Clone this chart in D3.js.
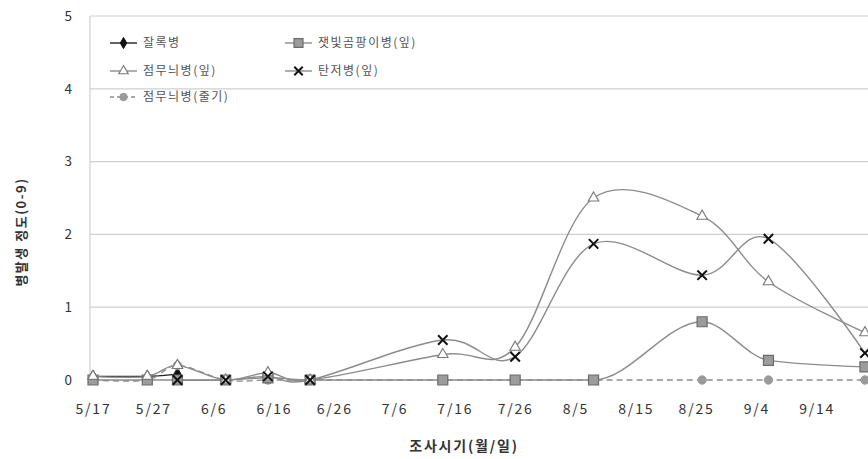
<!DOCTYPE html>
<html>
<head>
<meta charset="utf-8">
<script src="https://cdn.jsdelivr.net/npm/d3@7"></script>
<style>
  body { margin: 0; background: #fff; }
  svg { display: block; }
  text { font-family: "Noto Sans CJK KR", "Noto Sans", sans-serif; }
</style>
</head>
<body>
<svg id="chart" width="868" height="459"></svg>
<script>
// Survey dates (month/day)
const surveyDates = ["5/17", "5/26", "5/31", "6/8", "6/15", "6/22", "7/14", "7/26", "8/8", "8/26", "9/6", "9/22"];
const xTickLabels = ["5/17", "5/27", "6/6", "6/16", "6/26", "7/6", "7/16", "7/26", "8/5", "8/15", "8/25", "9/4", "9/14"];
const yTickValues = [0, 1, 2, 3, 4, 5];

// Disease severity (0-9 scale) per survey date; null = not surveyed
const dampingOff      = [0.05, 0.05, 0.08, null, null, null, null, null, null, null, null, null];
const grayMoldLeaf    = [0, 0, 0, 0, 0.03, 0, 0, 0, 0, 0.8, 0.27, 0.18];
const leafSpotLeaf    = [0.05, 0.05, 0.2, 0, 0.1, 0, 0.35, 0.45, 2.5, 2.25, 1.35, 0.65];
const anthracnoseLeaf = [null, null, 0, 0, 0.05, 0, 0.55, 0.32, 1.87, 1.44, 1.94, 0.37];
const leafSpotStem    = [0, 0, 0.2, 0, 0, 0, 0, 0, 0, 0, 0, 0];

const seriesNames = ["잘록병", "잿빛곰팡이병(잎)", "점무늬병(잎)", "탄저병(잎)", "점무늬병(줄기)"];

const parseDay = d3.timeParse("%m/%d");
const fmtDay = d3.timeFormat("%-m/%-d");

const svg = d3.select("#chart");
const plot = { left: 90, top: 16, bottom: 380, right: 877 };

const x = d3.scaleTime()
  .domain([d3.timeHour.offset(parseDay("5/17"), -12), parseDay("9/24")])
  .range([plot.left, plot.right]);
const y = d3.scaleLinear().domain([0, 5]).range([plot.bottom, plot.top]);

// Horizontal gridlines
svg.append("g")
  .selectAll("line")
  .data(yTickValues.filter(v => v > 0))
  .join("line")
  .attr("x1", plot.left).attr("x2", plot.right)
  .attr("y1", d => y(d)).attr("y2", d => y(d))
  .attr("stroke", "#cfcfcf").attr("stroke-width", 1.2);

// Value axis line
svg.append("line")
  .attr("x1", plot.left).attr("x2", plot.left)
  .attr("y1", plot.top).attr("y2", plot.bottom)
  .attr("stroke", "#cfcfcf").attr("stroke-width", 1.2);

// Y axis labels
const yAxis = d3.axisLeft(y).tickValues(yTickValues).tickSize(0).tickPadding(18).tickFormat(d3.format("d"));
const gy = svg.append("g").attr("transform", `translate(${plot.left},0)`).call(yAxis);
gy.select(".domain").remove();
gy.selectAll("text").attr("font-size", 13.5).attr("fill", "#333");

// X axis labels
const xAxis = d3.axisBottom(x).tickValues(xTickLabels.map(parseDay)).tickSize(0).tickPadding(24).tickFormat(fmtDay);
const gx = svg.append("g").attr("transform", `translate(0,${plot.bottom})`).call(xAxis);
gx.select(".domain").remove();
gx.selectAll("text").attr("font-size", 14).attr("fill", "#333").attr("letter-spacing", 1.8);

// Axis titles
svg.append("text")
  .attr("x", 464).attr("y", 451)
  .attr("text-anchor", "middle")
  .attr("font-size", 14).attr("font-weight", "bold").attr("fill", "#333")
  .attr("letter-spacing", 1.8)
  .text("조사시기(월/일)");
svg.append("text")
  .attr("transform", "translate(26,232) rotate(-90)")
  .attr("text-anchor", "middle")
  .attr("font-size", 13).attr("font-weight", "bold").attr("fill", "#333")
  .attr("letter-spacing", 1.5)
  .text("병발생 정도(0-9)");

// Series styling
const smooth = d3.curveCatmullRom.alpha(0);
const styles = {
  "잘록병":          { values: dampingOff,      line: "#222",    dash: null,  curve: smooth, symbol: d3.symbolDiamond,  size: 45,  fill: "#111",    stroke: "#111",    sw: 1 },
  "점무늬병(줄기)":   { values: leafSpotStem,    line: "#8c8c8c", dash: "6,4", curve: smooth, symbol: d3.symbolCircle,   size: 55,  fill: "#9a9a9a", stroke: "#9a9a9a", sw: 1 },
  "잿빛곰팡이병(잎)": { values: grayMoldLeaf,    line: "#8c8c8c", dash: null,  curve: d3.curveMonotoneX, symbol: d3.symbolSquare, size: 100, fill: "#9c9c9c", stroke: "#6a6a6a", sw: 1.2 },
  "점무늬병(잎)":     { values: leafSpotLeaf,    line: "#8c8c8c", dash: null,  curve: smooth, symbol: d3.symbolTriangle, size: 48,  fill: "#fff",    stroke: "#7a7a7a", sw: 1.1 },
  "탄저병(잎)":       { values: anthracnoseLeaf, line: "#8c8c8c", dash: null,  curve: smooth, symbol: d3.symbolTimes,    size: 60,  fill: "none",    stroke: "#111",    sw: 2 }
};
const drawOrder = ["잘록병", "점무늬병(줄기)", "잿빛곰팡이병(잎)", "점무늬병(잎)", "탄저병(잎)"];

drawOrder.forEach(name => {
  const s = styles[name];
  const pts = surveyDates.map((t, i) => ({ date: parseDay(t), v: s.values[i] }));
  const line = d3.line()
    .defined(d => d.v !== null)
    .x(d => x(d.date))
    .y(d => y(d.v))
    .curve(s.curve);
  svg.append("path")
    .datum(pts)
    .attr("d", line)
    .attr("fill", "none")
    .attr("stroke", s.line)
    .attr("stroke-width", 1.4)
    .attr("stroke-dasharray", s.dash);
});
drawOrder.forEach(name => {
  const s = styles[name];
  const pts = surveyDates.map((t, i) => ({ date: parseDay(t), v: s.values[i] })).filter(d => d.v !== null);
  svg.append("g")
    .selectAll("path")
    .data(pts)
    .join("path")
    .attr("transform", d => `translate(${x(d.date)},${y(d.v)})`)
    .attr("d", d3.symbol(s.symbol, s.size))
    .attr("fill", s.fill)
    .attr("stroke", s.stroke)
    .attr("stroke-width", s.sw);
});

// Legend (two columns, row-major order)
const legendPos = [
  { name: "잘록병",          x: 110, y: 43 },
  { name: "잿빛곰팡이병(잎)", x: 285, y: 43 },
  { name: "점무늬병(잎)",     x: 110, y: 71 },
  { name: "탄저병(잎)",       x: 285, y: 71 },
  { name: "점무늬병(줄기)",   x: 110, y: 97 }
];
const lg = svg.append("g");
legendPos.forEach(p => {
  const s = styles[p.name];
  lg.append("line")
    .attr("x1", p.x).attr("x2", p.x + 27)
    .attr("y1", p.y).attr("y2", p.y)
    .attr("stroke", s.line).attr("stroke-width", 1.4)
    .attr("stroke-dasharray", s.dash ? "4,3" : null);
  lg.append("path")
    .attr("transform", `translate(${p.x + 13.5},${p.y})`)
    .attr("d", d3.symbol(s.symbol, s.size * 0.8))
    .attr("fill", s.fill).attr("stroke", s.stroke).attr("stroke-width", s.sw);
  lg.append("text")
    .attr("x", p.x + 33).attr("y", p.y).attr("dy", "0.35em")
    .attr("font-size", 12).attr("fill", "#555").attr("letter-spacing", 1.5)
    .text(p.name);
});
</script>
</body>
</html>
